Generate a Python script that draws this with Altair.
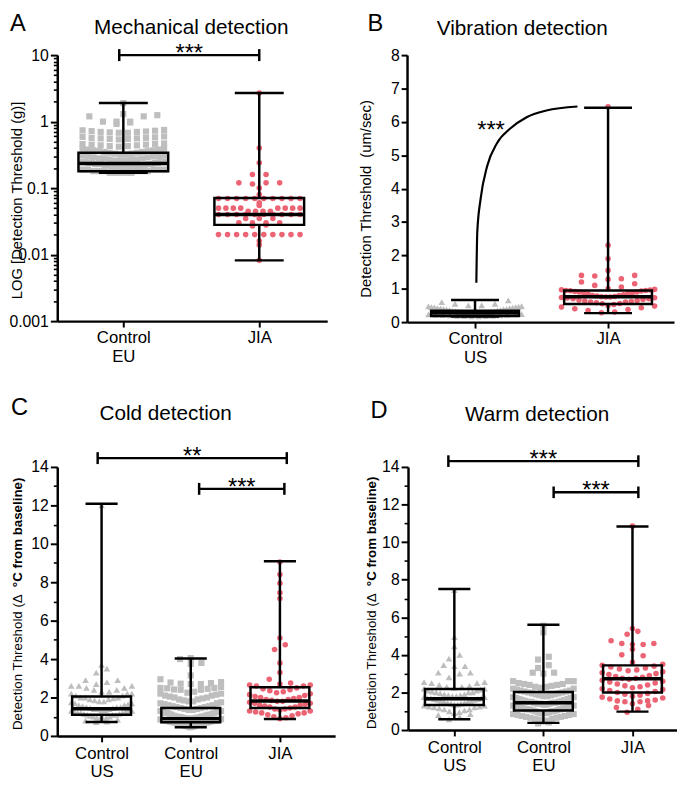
import altair as alt
import pandas as pd

FONT = "Liberation Sans"
GREY = "#BEBEBE"
RED = "#EC6474"

GROUPS = ["Control US", "Control EU", "JIA"]
SHAPES = ["triangle-up", "square", "circle"]
COLORS = [GREY, GREY, RED]
SIZES = [46, 32, 42]

# ---------------- Panel A : Mechanical detection (log scale) ----------------
A_cats = ["Control EU", "JIA"]
A_ctrl_eu = [1.9, 1.3, 1.25, 1.2, 1.2, 1.0, 1.0, 1.0, 0.97, 0.92,
             0.75, 0.74, 0.73, 0.72, 0.71, 0.7, 0.7, 0.69, 0.68, 0.68,
             0.6, 0.59, 0.58, 0.57, 0.57, 0.56, 0.56, 0.55, 0.55, 0.54,
             0.47, 0.46, 0.46, 0.45, 0.45, 0.44, 0.44, 0.43, 0.43, 0.42,
             0.39, 0.39, 0.38, 0.38, 0.37, 0.37, 0.36, 0.36, 0.35, 0.35, 0.34, 0.34, 0.33,
             0.33, 0.32, 0.32, 0.31, 0.31, 0.3, 0.3, 0.3, 0.29, 0.29, 0.28, 0.28, 0.28, 0.27,
             0.27, 0.27, 0.26, 0.26, 0.26, 0.25, 0.25, 0.25, 0.25, 0.24, 0.24, 0.24, 0.24,
             0.23, 0.23, 0.23, 0.23, 0.23, 0.22, 0.22, 0.22, 0.22, 0.21, 0.21, 0.21, 0.21,
             0.21, 0.2, 0.2, 0.2, 0.2, 0.2, 0.19, 0.19, 0.19, 0.19, 0.19, 0.18, 0.18, 0.18,
             0.18, 0.18, 0.18, 0.17, 0.17, 0.17, 0.17, 0.17]
A_jia = [2.7, 0.4, 0.24, 0.16, 0.16, 0.12, 0.12, 0.12, 0.115, 0.1, 0.08,
         0.07, 0.07, 0.07, 0.07, 0.07, 0.07, 0.07, 0.07, 0.07, 0.07,
         0.06, 0.055,
         0.05, 0.05, 0.05, 0.05, 0.05, 0.05, 0.05, 0.05,
         0.045, 0.045, 0.045, 0.045,
         0.04, 0.04, 0.04, 0.04, 0.04, 0.04, 0.04, 0.04, 0.04, 0.04,
         0.035, 0.035, 0.035,
         0.03, 0.03, 0.03, 0.03, 0.028, 0.027,
         0.02, 0.02, 0.02, 0.02, 0.02, 0.02, 0.02, 0.02, 0.02, 0.02,
         0.016, 0.014, 0.0082]
A_q1 = [0.18, 0.028]
A_med = [0.234, 0.040]
A_q3 = [0.34, 0.071]
A_lo = [0.17, 0.0082]
A_hi = [1.9, 2.7]
A_br_x1 = [-0.03]
A_br_x2 = [1.0]
A_br_y = [10.0]
A_br_lab = ["***"]
A_major = [0.001, 0.01, 0.1, 1, 10]
A_minor = [0.002, 0.003, 0.004, 0.005, 0.006, 0.007, 0.008, 0.009,
           0.02, 0.03, 0.04, 0.05, 0.06, 0.07, 0.08, 0.09,
           0.2, 0.3, 0.4, 0.5, 0.6, 0.7, 0.8, 0.9,
           2, 3, 4, 5, 6, 7, 8, 9]

# ---------------- Panel B : Vibration detection ----------------
B_cats = ["Control US", "JIA"]
B_ctrl_us = [0.65, 0.6, 0.55, 0.55, 0.5, 0.5, 0.48, 0.47, 0.46, 0.45, 0.45, 0.44, 0.43,
             0.42, 0.42, 0.41, 0.4, 0.4, 0.39, 0.38, 0.37, 0.36, 0.35, 0.34, 0.33, 0.33,
             0.32, 0.31, 0.3, 0.3, 0.29, 0.28, 0.28, 0.27, 0.26, 0.26, 0.25, 0.25, 0.24,
             0.23, 0.23, 0.22, 0.22, 0.21, 0.2, 0.2, 0.19, 0.19, 0.18, 0.18, 0.17, 0.17]
B_jia = [6.45, 2.3, 1.9, 1.55, 1.4, 1.4, 1.38, 1.3, 1.28, 1.2, 1.15, 1.1, 1.05, 1.0,
         0.98, 0.97, 0.96, 0.95, 0.95, 0.94, 0.93, 0.92, 0.9, 0.9, 0.88, 0.87, 0.85,
         0.84, 0.82, 0.8, 0.8, 0.78, 0.77, 0.76, 0.75, 0.75, 0.74, 0.73, 0.72, 0.7, 0.7,
         0.68, 0.66, 0.65, 0.63, 0.62, 0.6, 0.6, 0.58, 0.56, 0.55, 0.53, 0.5, 0.48, 0.45,
         0.43, 0.4, 0.38, 0.35, 0.3, 0.28]
B_q1 = [0.18, 0.54]
B_med = [0.27, 0.76]
B_q3 = [0.34, 0.95]
B_lo = [0.17, 0.27]
B_hi = [0.66, 6.42]
B_major = [0, 1, 2, 3, 4, 5, 6, 7, 8]
B_curve_x = [0.010, 0.017, 0.042, 0.091, 0.165, 0.265, 0.388, 0.536, 0.770]
B_curve_y = [1.18, 2.70, 3.69, 4.67, 5.36, 5.80, 6.14, 6.34, 6.46]
B_star_x = [0.12]
B_star_y = [5.93]
B_star_lab = ["***"]

# ---------------- Panel C : Cold detection ----------------
C_cats = ["Control US", "Control EU", "JIA"]
C_ctrl_us = [12.0, 3.7, 3.5, 3.3, 2.9, 2.9, 2.8, 2.7, 2.6, 2.6, 2.6, 2.5, 2.5, 2.4, 2.4,
             2.3, 2.3, 2.2, 2.2, 2.2, 2.1, 2.1, 2.0, 2.0, 2.0, 1.95, 1.9, 1.9, 1.85, 1.8,
             1.8, 1.75, 1.7, 1.7, 1.65, 1.6, 1.6, 1.55, 1.5, 1.5, 1.5, 1.45, 1.45, 1.4, 1.4,
             1.4, 1.35, 1.35, 1.3, 1.3, 1.3, 1.25, 1.25, 1.2, 1.2, 1.2, 1.15, 1.15, 1.1,
             1.1, 1.1, 1.05, 1.0, 1.0, 0.95, 0.95, 0.9, 0.9, 0.85, 0.8, 0.75, 0.72]
C_ctrl_eu = [4.05, 4.0, 3.8, 3.75, 3.15, 2.95, 2.8, 2.78, 2.75, 2.72, 2.7, 2.7,
             2.55, 2.5, 2.5, 2.48, 2.45, 2.42, 2.4, 2.4,
             2.3, 2.25, 2.2, 2.2, 2.15, 2.1, 2.1, 2.05, 2.0, 2.0, 1.95, 1.9, 1.9, 1.85,
             1.8, 1.8, 1.75, 1.7, 1.7, 1.65, 1.6, 1.6, 1.55, 1.55, 1.5, 1.5, 1.45, 1.45,
             1.4, 1.4, 1.35, 1.35, 1.3, 1.3, 1.3, 1.25, 1.25, 1.2, 1.2, 1.2, 1.15, 1.15,
             1.1, 1.1, 1.1, 1.05, 1.05, 1.0, 1.0, 1.0, 1.0, 0.98, 0.95, 0.95, 0.95, 0.92,
             0.9, 0.9, 0.9, 0.9, 0.88, 0.86, 0.85, 0.85, 0.85, 0.82, 0.8, 0.8, 0.8, 0.8,
             0.78, 0.76, 0.75, 0.75, 0.75, 0.72, 0.7, 0.7, 0.7, 0.7, 0.68, 0.66, 0.65,
             0.65, 0.62, 0.6, 0.6, 0.6, 0.58, 0.55, 0.55, 0.52, 0.5, 0.5, 0.48, 0.45]
C_jia = [9.05, 8.4, 7.95, 7.45, 7.15, 5.1, 4.75, 4.5, 3.8, 3.3, 2.95, 2.75, 2.7, 2.65,
         2.65, 2.6, 2.6, 2.5, 2.45, 2.4, 2.35, 2.3, 2.25, 2.2, 2.15, 2.1, 2.05, 2.0, 2.0,
         1.95, 1.9, 1.9, 1.85, 1.8, 1.8, 1.75, 1.7, 1.7, 1.65, 1.6, 1.6, 1.55, 1.5, 1.5,
         1.45, 1.4, 1.4, 1.35, 1.3, 1.3, 1.25, 1.2, 1.2, 1.15, 1.1, 1.05, 1.0, 0.95, 0.9]
C_q1 = [1.1, 0.71, 1.45]
C_med = [1.41, 0.9, 1.82]
C_q3 = [2.05, 1.45, 2.53]
C_lo = [0.72, 0.45, 0.88]
C_hi = [12.09, 4.03, 9.09]
C_br_x1 = [-0.044, 1.094]
C_br_x2 = [2.077, 2.05]
C_br_y = [14.46, 12.86]
C_br_lab = ["**", "***"]

# ---------------- Panel D : Warm detection ----------------
D_cats = ["Control US", "Control EU", "JIA"]
D_ctrl_us = [7.45, 4.95, 4.45, 4.0, 3.8, 3.45, 3.4, 3.4, 3.05, 3.05, 3.0, 2.8, 2.55, 2.55,
             2.5, 2.5, 2.4, 2.35, 2.3, 2.3, 2.25, 2.2, 2.2, 2.15, 2.1, 2.1, 2.05, 2.0, 2.0,
             2.0, 1.95, 1.9, 1.9, 1.85, 1.85, 1.8, 1.8, 1.75, 1.75, 1.7, 1.7, 1.7, 1.65,
             1.65, 1.6, 1.6, 1.55, 1.55, 1.5, 1.5, 1.45, 1.45, 1.4, 1.4, 1.35, 1.35, 1.3,
             1.3, 1.25, 1.25, 1.2, 1.2, 1.15, 1.1, 1.1, 1.05, 1.0, 0.95, 0.9, 0.85, 0.8,
             0.7, 0.57]
D_ctrl_eu = [5.55, 5.2, 3.9, 3.75, 3.45, 3.3, 3.05, 3.05, 3.0, 2.6, 2.6, 2.6, 2.5, 2.45,
             2.45, 2.4, 2.4, 2.35, 2.3, 2.3, 2.25, 2.2, 2.2, 2.15, 2.1, 2.1, 2.05, 2.05,
             2.0, 2.0, 1.95, 1.95, 1.9, 1.9, 1.85, 1.85, 1.8, 1.8, 1.75, 1.75, 1.7, 1.7,
             1.65, 1.65, 1.6, 1.6, 1.55, 1.55, 1.5, 1.5, 1.5, 1.45, 1.45, 1.45, 1.4, 1.4,
             1.4, 1.35, 1.35, 1.3, 1.3, 1.3, 1.25, 1.25, 1.2, 1.2, 1.2, 1.15, 1.15, 1.1,
             1.1, 1.1, 1.05, 1.05, 1.0, 1.0, 1.0, 0.95, 0.95, 0.9, 0.9, 0.9, 0.85, 0.85,
             0.8, 0.8, 0.75, 0.75, 0.7, 0.7, 0.65, 0.65, 0.6, 0.6, 0.55, 0.5, 0.45, 0.4,
             0.35]
D_jia = [10.85, 5.4, 5.25, 5.1, 4.75, 4.6, 4.55, 4.55, 4.6, 4.3, 4.0, 3.95, 3.6, 3.5,
         3.45, 3.4, 3.35, 3.3, 3.25, 3.2, 3.15, 3.1, 3.05, 3.0, 2.95, 2.9, 2.85, 2.8,
         2.75, 2.75, 2.7, 2.65, 2.6, 2.55, 2.5, 2.45, 2.4, 2.35, 2.3, 2.25, 2.2, 2.15,
         2.1, 2.05, 2.0, 1.95, 1.9, 1.85, 1.8, 1.75, 1.7, 1.65, 1.6, 1.55, 1.55, 1.5,
         1.5, 1.4, 1.3, 1.2, 1.1, 0.95]
D_q1 = [1.33, 1.04, 2.0]
D_med = [1.66, 1.45, 2.73]
D_q3 = [2.18, 2.02, 3.44]
D_lo = [0.57, 0.38, 0.98]
D_hi = [7.5, 5.6, 10.83]
D_br_x1 = [-0.067, 1.115]
D_br_x2 = [2.066, 2.066]
D_br_y = [14.31, 12.65]
D_br_lab = ["***", "***"]

CD_major = [0, 2, 4, 6, 8, 10, 12, 14]
CD_minor = [1, 3, 5, 7, 9, 11, 13]

TITLES = ["Mechanical detection", "Vibration detection", "Cold detection", "Warm detection"]
LETTERS = ["A", "B", "C", "D"]
YTITLE_A = "LOG [Detection Threshold (g)]"
YTITLE_B = "Detection Threshold\u00a0 (um/sec)"
YTITLE_CD = ["Detection Threshold (\u0394", "\u00b0C from baseline)"]


def label_expr(cats):
    labs = []
    for c in cats:
        words = c.split(" ")
        if len(words) > 1:
            labs.append("[" + ",".join("'" + w + "'" for w in words) + "]")
        else:
            labs.append("'" + c + "'")
    expr = labs[-1]
    for i in range(len(labs) - 2, -1, -1):
        expr = f"datum.value == {i} ? {labs[i]} : ({expr})"
    return expr


def points_df(cats, series):
    rows = []
    for i, (c, vals) in enumerate(zip(cats, series)):
        for v in vals:
            rows.append({"g": i, "grp": c, "v": v})
    return pd.DataFrame(rows)


def text_layer(txt, x, y, size, **kw):
    tdf = pd.DataFrame({"t": [txt]})
    return alt.Chart(tdf).mark_text(fontSize=size, font=FONT, color="black", **kw).encode(
        text="t:N", x=alt.value(x), y=alt.value(y))


def make_panel(cats, series, q1, med, q3, lo, hi, *, w, h, xdom, ydom, log,
               major, minor, major_expr, ytitle, ytitle_xy, binw, sp, W,
               title, title_xy, letter, letter_xy, label_pad,
               brackets=None, tick_lo=None, tick_hi=None, extra=()):
    xs = alt.Scale(domain=xdom, nice=False, zero=False)
    if log:
        ys = alt.Scale(type="log", domain=ydom, nice=False)
        binexpr = f"floor(log(datum.v) / LN10 / ({binw}))"
    else:
        ys = alt.Scale(domain=ydom, nice=False, zero=False)
        binexpr = f"floor(datum.v / ({binw}))"

    xaxis = alt.Axis(values=list(range(len(cats))), labelExpr=label_expr(cats), title=None,
                     tickSize=6, tickWidth=2, labelFontSize=17, labelLineHeight=18.5,
                     labelPadding=label_pad, labelFlush=False, labelBound=False,
                     domainWidth=2.5, grid=False, labelOverlap=False)
    yargs = dict(values=major, orient="left", tickSize=7 if minor else 6, tickWidth=2,
                 labelFontSize=16, labelPadding=2, domainWidth=2.5, grid=False,
                 labelFlush=False, labelOverlap=False)
    if major_expr:
        yargs["labelExpr"] = major_expr
    if ytitle:
        yargs.update(title=ytitle, titleX=ytitle_xy[0], titleY=ytitle_xy[1], titleAngle=270,
                     titleBaseline="middle", titleAlign="center", titleFontSize=15,
                     titleFontWeight="normal")
    else:
        yargs["title"] = None
    ymaj_axis = alt.Axis(**yargs)

    pdf = points_df(cats, series)
    pts = (
        alt.Chart(pdf)
        .transform_calculate(b=binexpr)
        .transform_window(rk="row_number()", groupby=["g", "b"],
                          sort=[alt.SortField("v", order="ascending")])
        .transform_joinaggregate(n="count()", groupby=["g", "b"])
        .transform_calculate(
            pos="(datum.rk % 2 == 0 ? 1 : -1) * floor(datum.rk / 2) - (datum.n % 2 == 0 ? 0.5 : 0)")
        .transform_calculate(xx=f"datum.g + datum.pos * min({sp}, {W} / max(datum.n - 1, 1))")
        .mark_point(filled=True, opacity=1, strokeWidth=0)
        .encode(
            x=alt.X("xx:Q", scale=xs, axis=xaxis),
            y=alt.Y("v:Q", scale=ys, axis=ymaj_axis),
            shape=alt.Shape("grp:N", scale=alt.Scale(domain=GROUPS, range=SHAPES), legend=None),
            color=alt.Color("grp:N", scale=alt.Scale(domain=GROUPS, range=COLORS), legend=None),
            size=alt.Size("grp:N", scale=alt.Scale(domain=GROUPS, range=SIZES), legend=None),
        )
    )

    bdf = pd.DataFrame({"g": list(range(len(cats))), "q1": q1, "med": med, "q3": q3,
                        "lo": lo, "hi": hi})
    base = alt.Chart(bdf).transform_calculate(
        bl="datum.g - 0.33", br="datum.g + 0.33", cl="datum.g - 0.18", cr="datum.g + 0.18")
    X = lambda f: alt.X(f, scale=xs, axis=None)
    Y = lambda f, ax=None: alt.Y(f, scale=ys, axis=ax)
    if minor:
        ymin_axis = alt.Axis(values=minor, orient="left", labels=False, domain=False,
                             tickSize=4, tickWidth=1.6, title=None, grid=False)
    else:
        ymin_axis = None
    wlo = base.mark_rule(color="black", strokeWidth=2.5).encode(
        x=X("g:Q"), y=Y("lo:Q", ymin_axis), y2="q1:Q")
    whi = base.mark_rule(color="black", strokeWidth=2.5).encode(
        x=X("g:Q"), y=Y("q3:Q"), y2="hi:Q")
    caplo = base.mark_rule(color="black", strokeWidth=2.5).encode(
        x=X("cl:Q"), x2="cr:Q", y=Y("lo:Q"))
    caphi = base.mark_rule(color="black", strokeWidth=2.5).encode(
        x=X("cl:Q"), x2="cr:Q", y=Y("hi:Q"))
    box = base.mark_rect(fill="white", fillOpacity=0, stroke="black", strokeWidth=2.5).encode(
        x=X("bl:Q"), x2="br:Q", y=Y("q1:Q"), y2="q3:Q")
    medl = base.mark_rule(color="black", strokeWidth=3.5).encode(
        x=X("bl:Q"), x2="br:Q", y=Y("med:Q"))

    layers = [pts, wlo, whi, caplo, caphi, box, medl]

    if brackets is not None:
        bx1, bx2, by, blab = brackets
        brdf = pd.DataFrame({"x1": bx1, "x2": bx2, "y": by, "lab": blab})
        bb = alt.Chart(brdf).transform_calculate(
            xm="(datum.x1 + datum.x2) / 2", ylo=tick_lo, yhi=tick_hi)
        layers.append(bb.mark_rule(color="black", strokeWidth=2.5).encode(
            x=X("x1:Q"), x2="x2:Q", y=Y("y:Q")))
        layers.append(bb.mark_rule(color="black", strokeWidth=2.5).encode(
            x=X("x1:Q"), y=Y("ylo:Q"), y2="yhi:Q"))
        layers.append(bb.mark_rule(color="black", strokeWidth=2.5).encode(
            x=X("x2:Q"), y=Y("ylo:Q"), y2="yhi:Q"))
        layers.append(bb.mark_text(fontSize=24, font=FONT, dy=6, baseline="alphabetic",
                                   align="center", color="black").encode(
            x=X("xm:Q"), y=Y("y:Q"), text="lab:N"))

    for make in extra:
        layers.append(make(X, Y))

    layers.append(text_layer(letter, letter_xy[0], letter_xy[1], 24,
                             align="left", baseline="alphabetic"))
    layers.append(text_layer(title, title_xy[0], title_xy[1], 21,
                             align="center", baseline="alphabetic"))

    return alt.layer(*layers).resolve_axis(x="independent", y="independent").properties(
        width=w, height=h)


def cd_title(x0, y0, gap):
    def make(X, Y):
        return text_layer(YTITLE_CD[0], x0, y0, 13.5, angle=270, align="left",
                          baseline="middle")
    def make2(X, Y):
        return text_layer(YTITLE_CD[1], x0, y0 - gap, 13.5, angle=270, align="left",
                          baseline="middle", fontWeight="bold")
    return [make, make2]


def b_extra():
    def curve(X, Y):
        cdf = pd.DataFrame({"cx": B_curve_x, "cy": B_curve_y})
        return alt.Chart(cdf).mark_line(color="black", strokeWidth=2.2,
                                        interpolate="monotone").encode(
            x=X("cx:Q"), y=Y("cy:Q"))
    def star(X, Y):
        sdf = pd.DataFrame({"sx": B_star_x, "sy": B_star_y, "lab": B_star_lab})
        return alt.Chart(sdf).mark_text(fontSize=24, font=FONT, dy=14, baseline="alphabetic",
                                        align="center", color="black").encode(
            x=X("sx:Q"), y=Y("sy:Q"), text="lab:N")
    return [curve, star]


A_expr = ("datum.value < 0.005 ? '0.001' : datum.value < 0.05 ? '0.01' : "
          "datum.value < 0.5 ? '0.1' : datum.value < 5 ? '1' : '10'")

panelA = make_panel(
    A_cats, [A_ctrl_eu, A_jia], A_q1, A_med, A_q3, A_lo, A_hi,
    w=274, h=270, xdom=[-0.486, 1.5], ydom=[0.001, 10], log=True,
    major=A_major, minor=A_minor, major_expr=A_expr,
    ytitle=YTITLE_A, ytitle_xy=(-41, 147),
    binw="datum.grp == 'JIA' ? 0.05 : 0.1", sp=0.1, W=0.6,
    title=TITLES[0], title_xy=(136, -21.7), letter=LETTERS[0], letter_xy=(-48, -24),
    label_pad=3, brackets=(A_br_x1, A_br_x2, A_br_y, A_br_lab),
    tick_lo="datum.y / 1.23", tick_hi="datum.y * 1.23")

panelB = make_panel(
    B_cats, [B_ctrl_us, B_jia], B_q1, B_med, B_q3, B_lo, B_hi,
    w=271, h=271, xdom=[-0.511, 1.496], ydom=[0, 8], log=False,
    major=B_major, minor=None, major_expr=None,
    ytitle=YTITLE_B, ytitle_xy=(-42, 145.5), binw=0.25, sp=0.1, W=0.7,
    title=TITLES[1], title_xy=(117, -20.7), letter=LETTERS[1], letter_xy=(-40, -24),
    label_pad=3, extra=b_extra())

panelC = make_panel(
    C_cats, [C_ctrl_us, C_ctrl_eu, C_jia], C_q1, C_med, C_q3, C_lo, C_hi,
    w=282, h=273, xdom=[-0.497, 2.619], ydom=[0, 14], log=False,
    major=CD_major, minor=CD_minor, major_expr=None,
    ytitle=None, ytitle_xy=None, binw=0.45, sp=0.12, W=0.68,
    title=TITLES[2], title_xy=(110, -47.7), letter=LETTERS[2], letter_xy=(-47, -52.3),
    label_pad=4, brackets=(C_br_x1, C_br_x2, C_br_y, C_br_lab),
    tick_lo="datum.y - 0.31", tick_hi="datum.y + 0.31", extra=cd_title(-40, 267, 145))

panelD = make_panel(
    D_cats, [D_ctrl_us, D_ctrl_eu, D_jia], D_q1, D_med, D_q3, D_lo, D_hi,
    w=273, h=267, xdom=[-0.52, 2.50], ydom=[0, 14], log=False,
    major=CD_major, minor=CD_minor, major_expr=None,
    ytitle=None, ytitle_xy=None, binw=0.45, sp=0.12, W=0.68,
    title=TITLES[3], title_xy=(131, -46.7), letter=LETTERS[3], letter_xy=(-38, -50),
    label_pad=4, brackets=(D_br_x1, D_br_x2, D_br_y, D_br_lab),
    tick_lo="datum.y - 0.31", tick_hi="datum.y + 0.31", extra=cd_title(-36, 266, 145))

top = alt.hconcat(panelA, panelB, spacing=32)
bottom = alt.hconcat(panelC, panelD, spacing=30)

chart = (
    alt.vconcat(top, bottom, spacing=31)
    .properties(padding={"left": 0, "top": -1, "right": 0, "bottom": 0})
    .configure_view(stroke=None)
    .configure_axis(domainColor="black", tickColor="black", labelColor="black",
                    titleColor="black", labelFont=FONT, titleFont=FONT, grid=False)
    .configure_text(font=FONT)
)

chart.save("out.html", embed_options={"renderer": "svg", "actions": False})
